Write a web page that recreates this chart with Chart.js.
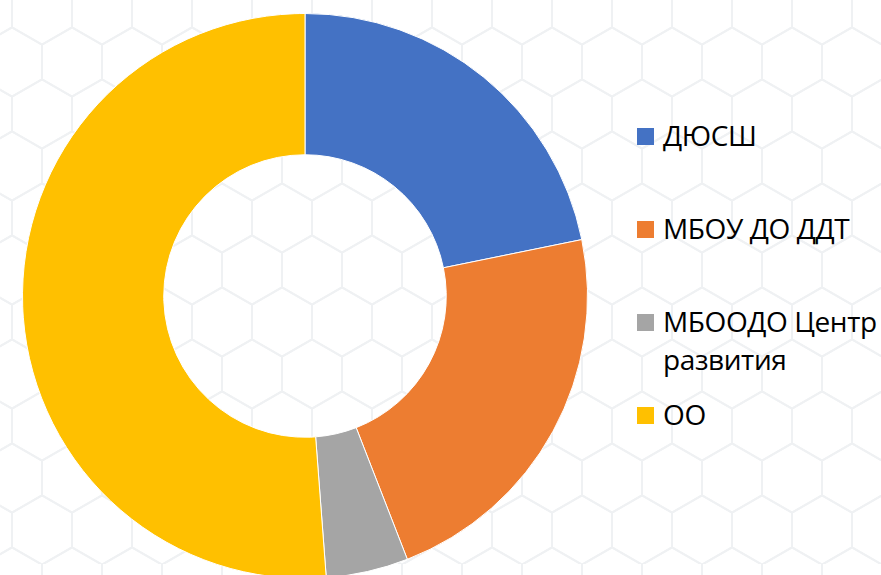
<!DOCTYPE html>
<html>
<head>
<meta charset="utf-8">
<script src="https://cdn.jsdelivr.net/npm/chart.js@4.4.1/dist/chart.umd.min.js"></script>
<style>
  html, body { margin: 0; padding: 0; }
  body {
    width: 881px; height: 575px; overflow: hidden; position: relative;
    background-color: #ffffff;
    background-image: url("data:image/svg+xml,%3Csvg xmlns='http://www.w3.org/2000/svg' width='60' height='103.92'%3E%3Cg fill='none' stroke='%23eff1f3' stroke-width='2'%3E%3Cpath d='M30 17.32L0 34.64L-30 17.32L-30 -17.32L0 -34.64L30 -17.32Z'/%3E%3Cpath d='M90 17.32L60 34.64L30 17.32L30 -17.32L60 -34.64L90 -17.32Z'/%3E%3Cpath d='M60 69.28L30 86.6L0 69.28L0 34.64L30 17.32L60 34.64Z'/%3E%3Cpath d='M30 121.24L0 138.56L-30 121.24L-30 86.6L0 69.28L30 86.6Z'/%3E%3Cpath d='M90 121.24L60 138.56L30 121.24L30 86.6L60 69.28L90 86.6Z'/%3E%3C/g%3E%3C/svg%3E");
    background-position: 42px 10px;
    font-family: "Open Sans", "Noto Sans", sans-serif;
  }
  #wrap { position: absolute; left: 22px; top: 13px; width: 566px; height: 566px; }
  #legend { position: absolute; left: 637px; top: 0; }
  .item { position: absolute; left: 0; width: 300px; }
  .box { position: absolute; left: 0; width: 17px; height: 17px; }
  .txt { position: absolute; left: 26px; width: 250px; font-size: 28px; letter-spacing: -0.4px; line-height: 38px; color: #000; white-space: normal; }
</style>
</head>
<body>
<div id="wrap"><canvas id="donut"></canvas></div>
<div id="legend"></div>
<script>
// данные диаграммы
const categorias = ['ДЮСШ', 'МБОУ ДО ДДТ', 'МБООДО Центр развития', 'ОО'];
const valores = [21.8, 22.3, 4.7, 51.2];
const colores = ['#4472C4', '#ED7D31', '#A5A5A5', '#FFC000'];

// posición vertical de cada elemento de la leyenda (top de la caja)
const leyendaTop = [128, 221, 314, 407];

const legend = document.getElementById('legend');
categorias.forEach((cat, i) => {
    const item = document.createElement('div');
    item.className = 'item';
    item.style.top = leyendaTop[i] + 'px';
    item.innerHTML = `
      <div class="box" style="background:${colores[i]}"></div>
      <div class="txt" style="top:-12px">${cat}</div>
    `;
    legend.appendChild(item);
});

const ctx = document.getElementById('donut').getContext('2d');
new Chart(ctx, {
    type: 'doughnut',
    data: {
        labels: categorias,
        datasets: [{
            data: valores,
            backgroundColor: colores,
            borderColor: '#ffffff',
            borderWidth: 1
        }]
    },
    options: {
        responsive: true,
        maintainAspectRatio: false,
        animation: false,
        cutout: '50%',
        layout: { padding: 0 },
        plugins: {
            legend: { display: false },
            tooltip: { enabled: false }
        }
    }
});
</script>
</body>
</html>
